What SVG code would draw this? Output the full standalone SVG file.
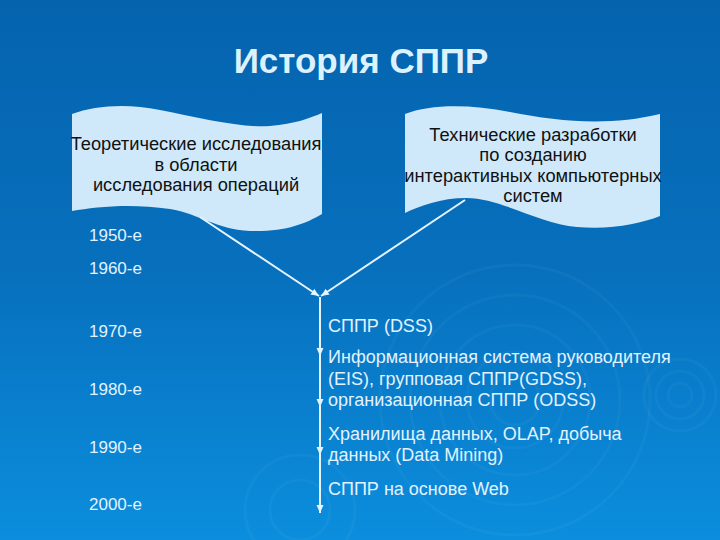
<svg xmlns="http://www.w3.org/2000/svg" width="720" height="540" viewBox="0 0 720 540">
<defs>
<linearGradient id="bg" x1="0" y1="0" x2="0" y2="1">
<stop offset="0" stop-color="#0563AE"/>
<stop offset="0.5" stop-color="#0770BD"/>
<stop offset="1" stop-color="#0B8EDD"/>
</linearGradient>
<marker id="arr" markerUnits="userSpaceOnUse" markerWidth="10" markerHeight="10" refX="8" refY="5" orient="auto">
<path d="M0,1.5 L8,5 L0,8.5 Z" fill="#E6F4FF"/>
</marker>
</defs>
<style>
.flag{fill:#CFE9FA;}
.ft{font-family:"Liberation Sans",Arial,sans-serif;font-size:18.3px;fill:#111;text-anchor:middle;}
.yr{font-family:"Liberation Sans",Arial,sans-serif;font-size:17px;fill:#E2F2FF;}
.ev{font-family:"Liberation Sans",Arial,sans-serif;font-size:18px;fill:#E2F2FF;}
.title{font-family:"Liberation Sans",Arial,sans-serif;font-size:35px;font-weight:bold;fill:#DDF2FF;text-anchor:middle;}
.con{stroke:#E6F4FF;stroke-width:2;fill:none;}
.rip{fill:none;stroke:#FFFFFF;stroke-opacity:0.035;stroke-width:3;}
</style>
<rect width="720" height="540" fill="url(#bg)"/>
<g id="ripples">
<circle class="rip" cx="515" cy="400" r="25"/>
<circle class="rip" cx="515" cy="400" r="48"/>
<circle class="rip" cx="515" cy="400" r="75"/>
<circle class="rip" cx="515" cy="400" r="105"/>
<circle class="rip" cx="515" cy="400" r="135"/>
<circle class="rip" cx="680" cy="395" r="12"/>
<circle class="rip" cx="680" cy="395" r="24"/>
<circle class="rip" cx="680" cy="395" r="36"/>
<circle class="rip" cx="300" cy="510" r="30"/>
<circle class="rip" cx="300" cy="510" r="55"/>
</g>
<text class="title" x="361" y="73">История СППР</text>
<g id="flag-theory">
<path class="flag" d="M72,114 C95,106 125,103 160,110 C200,118 240,128 270,126 C295,124 310,118 322,113 L322,214 C305,224 285,232 250,231 C215,229 200,214 170,209 C130,203 95,207 72,211 Z"/>
<text class="ft" x="196" y="150">Теоретические исследования</text>
<text class="ft" x="196" y="171">в области</text>
<text class="ft" x="196" y="191">исследования операций</text>
</g>
<g id="flag-tech">
<path class="flag" d="M405,114 C430,104 470,104 510,112 C560,122 610,126 660,114 L660,216 C640,224 610,230 577,227 C540,224 500,198 467,198 C440,198 420,206 405,213 Z"/>
<text class="ft" x="533" y="141">Технические разработки</text>
<text class="ft" x="533" y="161">по созданию</text>
<text class="ft" x="533" y="182">интерактивных компьютерных</text>
<text class="ft" x="533" y="202">систем</text>
</g>
<g id="years">
<text class="yr" x="89" y="241">1950-е</text>
<text class="yr" x="89" y="274">1960-е</text>
<text class="yr" x="89" y="337">1970-е</text>
<text class="yr" x="89" y="395">1980-е</text>
<text class="yr" x="89" y="453">1990-е</text>
<text class="yr" x="89" y="510">2000-е</text>
</g>
<g id="connectors">
<line class="con" x1="200" y1="217" x2="319" y2="296" marker-end="url(#arr)"/>
<line class="con" x1="465" y1="200" x2="321" y2="296" marker-end="url(#arr)"/>
<line class="con" x1="320" y1="297" x2="320" y2="356" marker-end="url(#arr)"/>
<line class="con" x1="320" y1="356" x2="320" y2="407" marker-end="url(#arr)"/>
<line class="con" x1="320" y1="407" x2="320" y2="455" marker-end="url(#arr)"/>
<line class="con" x1="320" y1="455" x2="320" y2="513" marker-end="url(#arr)"/>
</g>
<g id="ev-dss"><text class="ev" x="328" y="332">СППР (DSS)</text></g>
<g id="ev-eis">
<text class="ev" x="328" y="363">Информационная система руководителя</text>
<text class="ev" x="328" y="385">(EIS), групповая СППР(GDSS),</text>
<text class="ev" x="328" y="406">организационная СППР (ODSS)</text>
</g>
<g id="ev-dw">
<text class="ev" x="328" y="440">Хранилища данных, OLAP, добыча</text>
<text class="ev" x="328" y="461">данных (Data Mining)</text>
</g>
<g id="ev-web"><text class="ev" x="328" y="495">СППР на основе Web</text></g>
</svg>
